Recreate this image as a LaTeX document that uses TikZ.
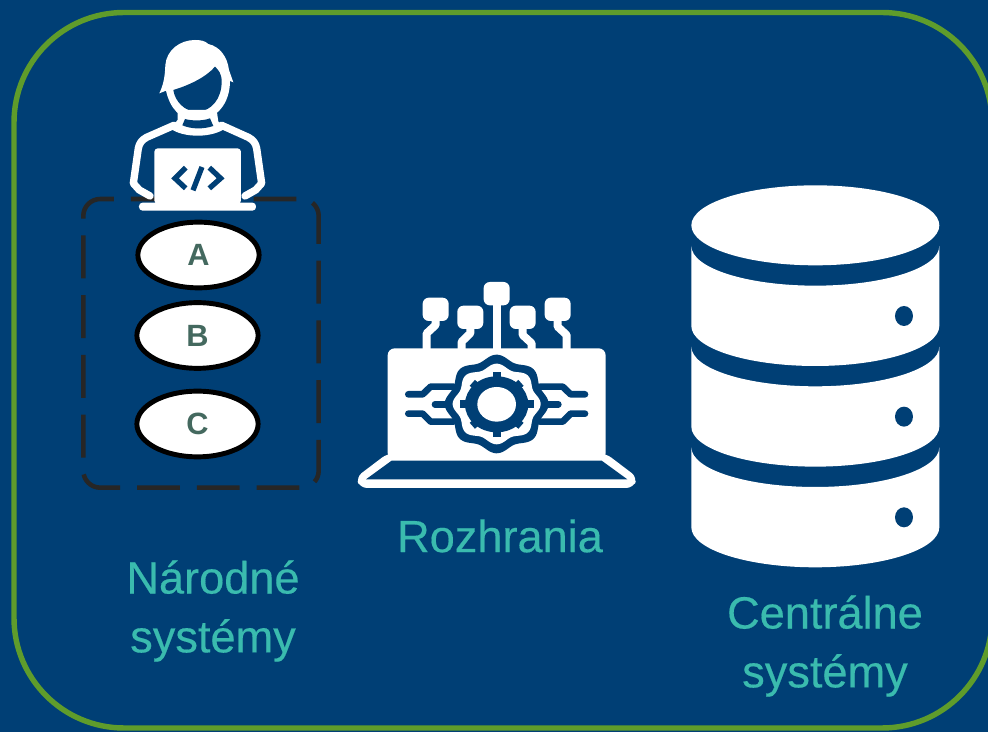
\documentclass[tikz,border=0pt]{standalone}
\usepackage{fontspec}
\usepackage{tikz}
\setmainfont{Liberation Sans}
\newfontfamily\labelfont[FakeBold=0.35]{Liberation Sans}
\definecolor{bgblue}{HTML}{003F75}
\definecolor{framegreen}{HTML}{5F9C2B}
\definecolor{labelteal}{HTML}{3ABBAE}
\definecolor{lettergreen}{HTML}{44695F}
\definecolor{dashgray}{HTML}{262626}
\usetikzlibrary{shapes.geometric}
\tikzset{
  sublabel/.style={text=labelteal, font=\labelfont\fontsize{25.7}{33.5}\selectfont, align=center},
  member/.style={draw=black, line width=2.8pt, fill=white, ellipse, minimum width=69pt, minimum height=37.4pt, inner sep=0pt,
    text=lettergreen, font=\bfseries\fontsize{17.5}{20}\selectfont},
  iconline/.style={draw=white, line width=4.2pt, line join=round, line cap=round},
  traceline/.style={draw=bgblue, line width=3.8pt, line cap=round, line join=round},
  pinline/.style={draw=white, line width=4.5pt, line join=round}
}
\begin{document}
\begin{tikzpicture}[x=0.02cm, y=-0.02cm]
\newcommand\PinShape[2]{(#1-39,#2-35) [rounded corners=3.5pt] rectangle (#1+39,#2+35)}
\fill[bgblue] (0,0) rectangle (988,732);
\useasboundingbox (0,0) rectangle (988,732);
\draw[framegreen, line width=3.1pt, rounded corners=2.2cm] (14,12.5) rectangle (992,728);
% dashed box
\draw[dashgray, line width=2.6pt, rounded corners=0.34cm, dash pattern=on 24.4pt off 9.6pt, dash phase=9.6pt]
  (134,199) -- (318.7,199) -- (318.7,487.7) -- (83.3,487.7) -- (83.3,199) -- cycle;
% person
\begin{scope}[shift={(70,20)}, x=0.00667cm, y=-0.00667cm]
\fill[white] (268,220) .. controls (280,195) and (285,170) .. (286,135) .. controls (290,90) and (330,60) .. (375,60)
  .. controls (390,60) and (405,62) .. (415,72) .. controls (450,80) and (472,110) .. (477,150) -- (490,187) -- (480,183)
  .. controls (480,250) and (440,300) .. (380,300) .. controls (330,300) and (300,265) .. (288,212) -- cycle;
\fill[bgblue] (310,210) .. controls (360,195) and (410,170) .. (435,140) .. controls (445,150) and (455,160) .. (455,185)
  .. controls (455,235) and (425,275) .. (380,275) .. controls (345,275) and (315,245) .. cycle;
\fill[white] (323,270) -- (440,270) -- (445,305) -- (470,322) .. controls (430,355) and (340,355) .. (300,325) -- (323,300) -- cycle;
\fill[bgblue] (345,297) .. controls (365,303) and (400,303) .. (420,295) -- (430,318) .. controls (400,328) and (365,328) .. (337,316) -- cycle;
\draw[iconline] (240,528) -- (208,510) -- (190,490) -- (205,385) .. controls (208,370) and (215,360) .. (230,352) -- (312,316);
\draw[iconline] (525,528) -- (557,510) -- (575,490) -- (560,385) .. controls (557,370) and (550,360) .. (535,352) -- (455,316);
\fill[white, rounded corners=2pt] (253,385) rectangle (513,552);
\fill[white, rounded corners=2pt] (207,548) rectangle (558,572);
\draw[bgblue, line width=3pt, line join=miter] (347,443) -- (315,475) -- (347,505);
\draw[bgblue, line width=3pt, line join=miter] (418,443) -- (452,475) -- (418,505);
\draw[bgblue, line width=3pt] (396,441) -- (369,511);
\end{scope}
% members
\node[member] (memberA) at (198.5,255) {A};
\node[member] (memberB) at (197.5,335.5) {B};
\node[member] (memberC) at (197.5,424) {C};
% interface laptop
\begin{scope}[shift={(340,270)}, x=0.00667cm, y=-0.00667cm]
\draw[pinline] (287,150) -- (287,165) -- (260,190) -- (260,240);
\draw[pinline] (391,170) -- (391,190) -- (365,215) -- (365,240);
\draw[pinline] (470,100) -- (470,240);
\draw[pinline] (548,170) -- (548,195) -- (575,220) -- (575,240);
\draw[pinline] (653,150) -- (653,170) -- (680,195) -- (680,240);
\foreach \px/\py in {287/118, 391/142, 470/71, 548/142, 653/118}
  \fill[white] \PinShape{\px}{\py};
\fill[white, rounded corners=4pt] (143,550) -- (48,622) -- (60,654) -- (880,654) -- (892,622) -- (797,550) -- cycle;
\fill[bgblue] (155,572) -- (78,628) -- (862,628) -- (785,572) -- cycle;
\fill[white, rounded corners=4pt] (143,235) rectangle (797,570);
\foreach \dx in {1,-1} {
  \draw[traceline] (470-\dx*265,373) -- (470-\dx*222,373) -- (470-\dx*198,350) -- (470-\dx*130,350);
  \draw[traceline] (470-\dx*265,431) -- (470-\dx*222,431) -- (470-\dx*198,455) -- (470-\dx*130,455);
  \draw[traceline] (470-\dx*185,403) -- (470-\dx*150,403);
}
\fill[bgblue] plot[domain=0:360, samples=144, smooth cycle] ({470+(148+8*cos(8*\x))*cos(\x)}, {402+(140+8*cos(8*\x))*sin(\x)});
\fill[white] plot[domain=0:360, samples=144, smooth cycle] ({470+(125+7*cos(8*\x))*cos(\x)}, {402+(114+7*cos(8*\x))*sin(\x)});
\fill[bgblue] (470,403) ellipse [x radius=95, y radius=84];
\foreach \a/\k in {0/1,45/0.93,90/1,135/0.93,180/1,225/0.93,270/1,315/0.93}
  \draw[bgblue, line width=4.5pt] (470,403) -- ({470+\k*111*cos(\a)},{403+\k*98*sin(\a)});
\fill[white] (470,403) ellipse [x radius=58, y radius=52];
\end{scope}
% database
\begin{scope}[shift={(680,170)}, x=0.00667cm, y=-0.00667cm]
\fill[white] (406,166) ellipse [x radius=372, y radius=120];
\foreach \dy in {0,302,604} {
  \begin{scope}[shift={(0,\dy)}]
  \fill[white] (34,228) .. controls (34,294) and (200,347) .. (406,347) .. controls (612,347) and (778,294) .. (778,228)
    -- (778,468) .. controls (778,534) and (612,588) .. (406,588) .. controls (200,588) and (34,534) .. (34,468) -- cycle;
  \fill[bgblue] (672,438) ellipse [x radius=27, y radius=30];
  \end{scope}
}
\end{scope}
% labels
\node[sublabel] (narodne) at (213,611) {Národné\\systémy};
\node[sublabel] (rozhrania) at (500,536) {Rozhrania};
\node[sublabel] (centralne) at (825,646) {Centrálne\\systémy};
\end{tikzpicture}
\end{document}
